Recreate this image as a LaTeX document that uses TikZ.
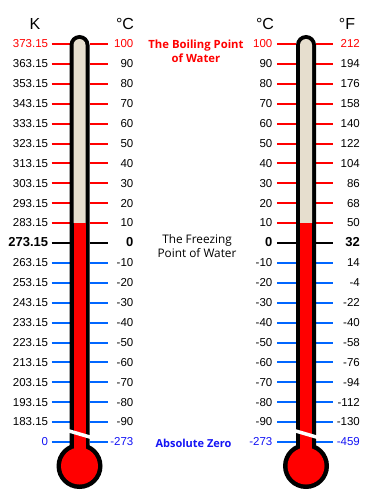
\documentclass[tikz,border=0pt]{standalone}
\usepackage{fontspec}
\setmainfont{Liberation Sans}
\newfontfamily\titlefont{Open Sans}
\definecolor{tred}{RGB}{255,0,0}
\definecolor{tblue}{RGB}{0,102,255}
\definecolor{lblue}{RGB}{20,20,245}
\definecolor{beige}{RGB}{230,222,206}
\newcommand\drawthermo[1]{%
  \fill[black] (#1-10,460) -- (#1-10,45) arc[start angle=180,end angle=360,radius=10] -- (#1+10,460) -- cycle;
  \fill[black] (#1,466) circle[radius=23];
  \fill[beige] (#1-6,223) -- (#1-6,45) arc[start angle=180,end angle=360,radius=6] -- (#1+6,223) -- cycle;
  \fill[tred] (#1-6,222.5) rectangle (#1+6,462);
  \fill[tred] (#1,466) circle[radius=18.5];
  \draw[white,line width=3.5] (#1-12,430.5) -- (#1+12,437.5);
}
\begin{document}
\begin{tikzpicture}[x=1pt,y=-1pt,
  numlab/.style={inner sep=0pt,anchor=base east,font=\fontsize{11.5}{11.5}\selectfont},
  head/.style={inner sep=0pt,anchor=base,font=\fontsize{16}{16}\selectfont},
  tick/.style={line width=2pt}]
\useasboundingbox (0,0) rectangle (379,500);
\fill[white] (0,0) rectangle (379,500);
% headers
\node[head] (hk) at (35,30) {K};
\node[head] (hc1) at (125,30) {°C};
\node[head] (hc2) at (265,30) {°C};
\node[head] (hf) at (347,30) {°F};
% scales
\foreach \K/\C/\F [count=\n from 0] in {373.15/100/212,363.15/90/194,353.15/80/176,343.15/70/158,333.15/60/140,323.15/50/122,313.15/40/104,303.15/30/86,293.15/20/68,283.15/10/50,273.15/0/32,263.15/-10/14,253.15/-20/-4,243.15/-30/-22,233.15/-40/-40,223.15/-50/-58,213.15/-60/-76,203.15/-70/-94,193.15/-80/-112,183.15/-90/-130}{
  \pgfmathsetmacro\yy{44+19.9*\n}
  \pgfmathsetmacro\yb{\yy+3.8}
  \ifnum\n<10 \def\tc{tred}\else\ifnum\n=10 \def\tc{black}\else\def\tc{tblue}\fi\fi
  \ifnum\n=0 \def\lc{tred}\else\def\lc{black}\fi
  \ifnum\n=10 \def\ff{\bfseries\fontsize{13}{13}\selectfont}\else\def\ff{\fontsize{11.5}{11.5}\selectfont}\fi
  \draw[tick,\tc] (51.5,\yy) -- (69.5,\yy) (89.5,\yy) -- (108,\yy);
  \draw[tick,\tc] (277,\yy) -- (296,\yy) (316,\yy) -- (333,\yy);
  \node[numlab,text=\lc,font=\ff] (k\n) at (48.3,\yb) {\K};
  \node[numlab,text=\lc,font=\ff] (cl\n) at (133.5,\yb) {\C};
  \node[numlab,text=\lc,font=\ff] (cr\n) at (272.5,\yb) {\C};
  \node[numlab,text=\lc,font=\ff] (f\n) at (360,\yb) {\F};
}
% absolute zero line
\draw[tick,tblue] (51.5,442) -- (69.5,442) (89.5,442) -- (108,442);
\draw[tick,tblue] (277,442) -- (296,442) (316,442) -- (333,442);
\node[numlab,text=lblue] (kz) at (48.3,445.8) {0};
\node[numlab,text=lblue] (clz) at (133.5,445.8) {-273};
\node[numlab,text=lblue] (crz) at (272.5,445.8) {-273};
\node[numlab,text=lblue] (fz) at (360,445.8) {-459};
% thermometers
\drawthermo{79.5}
\drawthermo{306}
% descriptive texts
\node[inner sep=0pt,anchor=base,text=tred,font=\titlefont\bfseries\fontsize{11.3}{14}\selectfont] (boil1) at (196,49) {The Boiling Point};
\node[inner sep=0pt,anchor=base,text=tred,font=\titlefont\bfseries\fontsize{11.3}{14}\selectfont] (boil2) at (196,63) {of Water};
\node[inner sep=0pt,anchor=base,font=\titlefont\fontsize{11.8}{14}\selectfont] (frz1) at (197,243) {The Freezing};
\node[inner sep=0pt,anchor=base,font=\titlefont\fontsize{11.8}{14}\selectfont] (frz2) at (197,257) {Point of Water};
\node[inner sep=0pt,anchor=base,text=lblue,font=\titlefont\bfseries\fontsize{11}{14}\selectfont] (absz) at (193.5,447) {Absolute Zero};
\end{tikzpicture}
\end{document}
